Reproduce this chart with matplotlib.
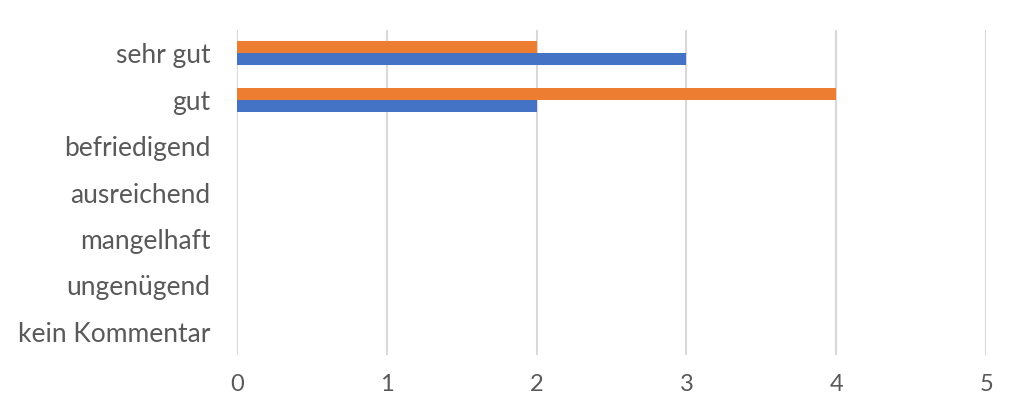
import matplotlib.pyplot as plt
import numpy as np

plt.rcParams['font.family'] = ['Lato', 'DejaVu Sans']

categories = ['sehr gut', 'gut', 'befriedigend', 'ausreichend', 'mangelhaft', 'ungenügend', 'kein Kommentar']
series_blue = [3, 2, 0, 0, 0, 0, 0]
series_orange = [2, 4, 0, 0, 0, 0, 0]
x_ticks = [0, 1, 2, 3, 4, 5]

fig = plt.figure(figsize=(10.24, 4.18), dpi=100)
ax = fig.add_axes([0.2314, 0.1507, 0.7316, 0.7775])

y = np.arange(len(categories))
h = 0.26
ax.barh(y + h / 2, series_blue, height=h, color='#4472C4', zorder=3)
ax.barh(y - h / 2, series_orange, height=h, color='#ED7D31', zorder=3)

ax.set_ylim(len(categories) - 0.5, -0.5)
ax.set_xlim(0, 5)
ax.set_xticks(x_ticks)
ax.set_yticks(y)
ax.set_yticklabels(categories)
ax.grid(axis='x', color='#D9D9D9', linewidth=1.5, zorder=0)
for s in ax.spines.values():
    s.set_visible(False)
ax.tick_params(axis='both', length=0, colors='#595959')
ax.tick_params(axis='x', pad=14, labelsize=17)
ax.tick_params(axis='y', pad=19, labelsize=19)

fig.savefig('out.png')
